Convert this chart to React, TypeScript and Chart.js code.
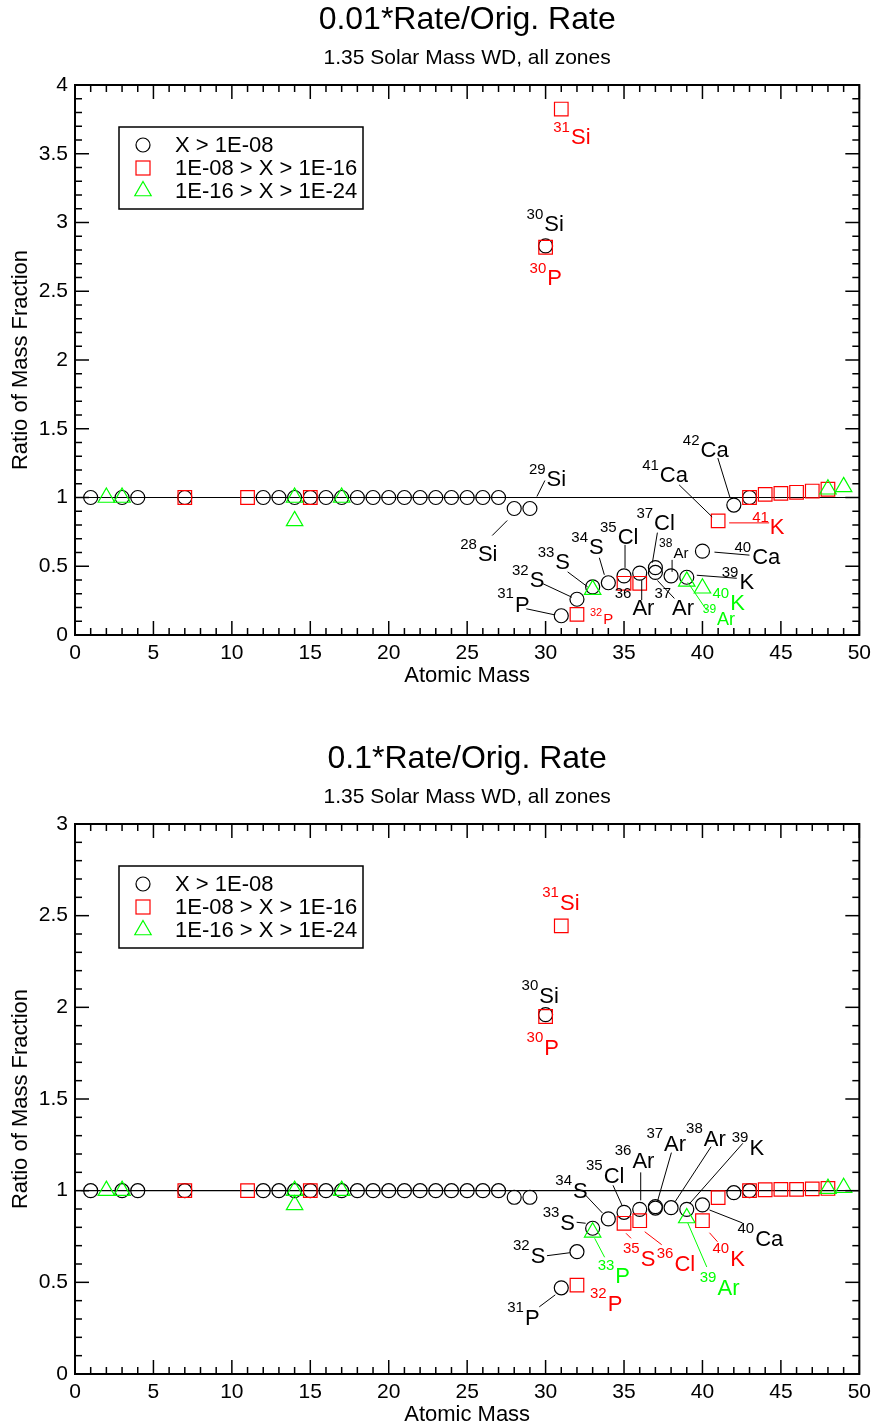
import React, { useEffect, useRef } from "react";
import { Chart, registerables } from "chart.js";

Chart.register(...registerables);

const FONT = '"Liberation Sans", Arial, Helvetica, sans-serif';
const BLACK = "#000000";
const RED = "#ff0000";
const GREEN = "#00ff00";

// ---------- data: panel A (0.01*Rate) ----------
const circleMassA = [1, 3, 4, 7, 12, 13, 14, 15, 16, 17, 18, 19, 20, 21, 22, 23, 24, 25, 26, 27, 28, 29, 30, 31, 32, 33, 34, 35, 36, 37, 37, 38, 39, 40, 42, 43];
const circleRatioA = [1, 1, 1, 1, 1, 1, 1, 1, 1, 1, 1, 1, 1, 1, 1, 1, 1, 1, 1, 1, 0.92, 0.92, 2.83, 0.14, 0.26, 0.35, 0.38, 0.43, 0.45, 0.49, 0.455, 0.43, 0.42, 0.61, 0.945, 1.0];
const squareMassA = [7, 11, 15, 30, 31, 32, 35, 36, 41, 43, 44, 45, 46, 47, 48];
const squareRatioA = [1, 1, 1, 2.82, 3.825, 0.15, 0.376, 0.376, 0.83, 1.0, 1.023, 1.03, 1.038, 1.047, 1.06];
const triMassA = [2, 3, 14, 14, 17, 33, 39, 40, 48, 49];
const triRatioA = [1, 1, 1, 0.83, 1, 0.33, 0.39, 0.34, 1.06, 1.077];

// ---------- data: panel B (0.1*Rate) ----------
const circleMassB = [1, 3, 4, 7, 12, 13, 14, 15, 16, 17, 18, 19, 20, 21, 22, 23, 24, 25, 26, 27, 28, 29, 30, 31, 32, 33, 34, 35, 36, 37, 37, 38, 39, 40, 42, 43];
const circleRatioB = [1, 1, 1, 1, 1, 1, 1, 1, 1, 1, 1, 1, 1, 1, 1, 1, 1, 1, 1, 1, 0.964, 0.964, 1.96, 0.47, 0.667, 0.795, 0.846, 0.882, 0.898, 0.913, 0.905, 0.907, 0.898, 0.922, 0.989, 1.0];
const squareMassB = [7, 11, 15, 30, 31, 32, 35, 36, 40, 41, 43, 44, 45, 46, 47, 48];
const squareRatioB = [1, 1, 1, 1.95, 2.444, 0.485, 0.822, 0.836, 0.836, 0.962, 1.0, 1.005, 1.007, 1.007, 1.01, 1.012];
const triMassB = [2, 3, 14, 14, 17, 33, 39, 48, 49];
const triRatioB = [1, 1, 1, 0.922, 1, 0.773, 0.851, 1.011, 1.016];

// ---------- text ----------
const titleA = "0.01*Rate/Orig. Rate";
const titleB = "0.1*Rate/Orig. Rate";
const subtitle = "1.35 Solar Mass WD, all zones";
const xTitle = "Atomic Mass";
const yTitle = "Ratio of Mass Fraction";
const legendLabels = ["X > 1E-08", "1E-08 > X > 1E-16", "1E-16 > X > 1E-24"];

type Lbl = {
  m: number; v: number; sup: string; sym: string; c: string;
  dx: number; dy: number; line?: number[]; supSize?: number; symSize?: number; gap?: number;
};

const labelsA: Lbl[] = [
  { m: 31, v: 3.825, sup: "31", sym: "Si", c: RED, dx: -8, dy: 23 },
  { m: 30, v: 2.83, sup: "30", sym: "Si", c: BLACK, dx: -19, dy: -27 },
  { m: 30, v: 2.82, sup: "30", sym: "P", c: RED, dx: -16, dy: 26 },
  { m: 29, v: 0.92, sup: "29", sym: "Si", c: BLACK, dx: -1, dy: -35, line: [7, -12, 15, -28] },
  { m: 28, v: 0.92, sup: "28", sym: "Si", c: BLACK, dx: -54, dy: 40, line: [-7, 12, -22, 27] },
  { m: 42, v: 0.945, sup: "42", sym: "Ca", c: BLACK, dx: -51, dy: -60, line: [-16, -47, -4, -8] },
  { m: 41, v: 0.83, sup: "41", sym: "Ca", c: BLACK, dx: -76, dy: -51, line: [-39, -36, -6, -4] },
  { m: 41, v: 0.83, sup: "41", sym: "K", c: RED, dx: 34, dy: 1, line: [11, 2, 51, 2] },
  { m: 40, v: 0.61, sup: "40", sym: "Ca", c: BLACK, dx: 32, dy: 1, line: [12, 1, 47, 4] },
  { m: 39, v: 0.42, sup: "39", sym: "K", c: BLACK, dx: 35, dy: 0, line: [10, -2, 50, 1] },
  { m: 40, v: 0.34, sup: "40", sym: "K", c: GREEN, dx: 10, dy: 10 },
  { m: 39, v: 0.39, sup: "39", sym: "Ar", c: GREEN, dx: 16, dy: 32, line: [1, 1, 20, 29], supSize: 12, symSize: 18 },
  { m: 38, v: 0.43, sup: "38", sym: "Ar", c: BLACK, dx: -12, dy: -29, line: [1, -16, 1, -4], supSize: 12, symSize: 15, gap: 11 },
  { m: 37, v: 0.49, sup: "37", sym: "Cl", c: BLACK, dx: -19, dy: -50, line: [2, -35, -3, -5] },
  { m: 37, v: 0.455, sup: "37", sym: "Ar", c: BLACK, dx: -1, dy: 26, line: [2, 8, 19, 26], gap: 17 },
  { m: 36, v: 0.45, sup: "36", sym: "Ar", c: BLACK, dx: -25, dy: 25, line: [2, 7, 2, 27], gap: 17 },
  { m: 35, v: 0.43, sup: "35", sym: "Cl", c: BLACK, dx: -24, dy: -44, line: [1, -31, 1, -8] },
  { m: 34, v: 0.38, sup: "34", sym: "S", c: BLACK, dx: -37, dy: -41, line: [-9, -25, -4, -8] },
  { m: 33, v: 0.35, sup: "33", sym: "S", c: BLACK, dx: -55, dy: -30, line: [-25, -15, -5, 0] },
  { m: 32, v: 0.26, sup: "32", sym: "S", c: BLACK, dx: -65, dy: -24, line: [-35, -16, -5, -2] },
  { m: 31, v: 0.14, sup: "31", sym: "P", c: BLACK, dx: -64, dy: -18, line: [-35, -7, -7, -1], gap: 14 },
  { m: 32, v: 0.15, sup: "32", sym: "P", c: RED, dx: 13, dy: 2, supSize: 11, symSize: 15, gap: 8 },
];

const labelsB: Lbl[] = [
  { m: 31, v: 2.444, sup: "31", sym: "Si", c: RED, dx: -19, dy: -29 },
  { m: 30, v: 1.96, sup: "30", sym: "Si", c: BLACK, dx: -24, dy: -25 },
  { m: 30, v: 1.95, sup: "30", sym: "P", c: RED, dx: -19, dy: 25 },
  { m: 31, v: 0.47, sup: "31", sym: "P", c: BLACK, dx: -54, dy: 24, line: [-22, 19, -6, 7] },
  { m: 32, v: 0.485, sup: "32", sym: "P", c: RED, dx: 13, dy: 13 },
  { m: 32, v: 0.667, sup: "32", sym: "S", c: BLACK, dx: -64, dy: -2, line: [-30, 4, -7, 1] },
  { m: 33, v: 0.795, sup: "33", sym: "S", c: BLACK, dx: -50, dy: -11, line: [-16, -6, -7, -5] },
  { m: 33, v: 0.773, sup: "33", sym: "P", c: GREEN, dx: 5, dy: 38, line: [2, 6, 12, 25] },
  { m: 34, v: 0.846, sup: "34", sym: "S", c: BLACK, dx: -53, dy: -34, line: [-23, -24, -6, -6] },
  { m: 35, v: 0.882, sup: "35", sym: "Cl", c: BLACK, dx: -38, dy: -42, line: [-11, -27, -2, -7] },
  { m: 36, v: 0.898, sup: "36", sym: "Ar", c: BLACK, dx: -25, dy: -54, line: [1, -37, 1, -9] },
  { m: 37, v: 0.913, sup: "37", sym: "Ar", c: BLACK, dx: -9, dy: -69, line: [16, -54, 2, -5] },
  { m: 38, v: 0.907, sup: "38", sym: "Ar", c: BLACK, dx: 15, dy: -75, line: [40, -61, 4, -6] },
  { m: 39, v: 0.898, sup: "39", sym: "K", c: BLACK, dx: 45, dy: -67, line: [56, -66, 3, -6] },
  { m: 40, v: 0.922, sup: "40", sym: "Ca", c: BLACK, dx: 35, dy: 28, line: [7, 5, 40, 18] },
  { m: 35, v: 0.822, sup: "35", sym: "S", c: RED, dx: -1, dy: 30, line: [2, 10, 7, 15] },
  { m: 36, v: 0.836, sup: "36", sym: "Cl", c: RED, dx: 17, dy: 37, line: [5, 11, 22, 24] },
  { m: 40, v: 0.836, sup: "40", sym: "K", c: RED, dx: 10, dy: 32, line: [7, 12, 15, 21] },
  { m: 39, v: 0.851, sup: "39", sym: "Ar", c: GREEN, dx: 13, dy: 64, line: [1, 5, 20, 49] },
];

const refLineX = [0.4, 50];
const refLineY = [1, 1];

type PanelCfg = {
  title: string; yMax: number; height: number;
  cm: number[]; cr: number[]; sm: number[]; sr: number[]; tm: number[]; tr: number[];
  labels: Lbl[];
};

const zip = (xs: number[], ys: number[]) => xs.map((x, i) => ({ x, y: ys[i] }));

const decoPlugin = {
  id: "deco",
  afterDraw(chart: any, _args: any, opts: any) {
    const ctx: CanvasRenderingContext2D = chart.ctx;
    const { left, right, top, bottom } = chart.chartArea;
    const xs = chart.scales.x;
    const ys = chart.scales.y;
    const seg = (x1: number, y1: number, x2: number, y2: number) => {
      ctx.beginPath(); ctx.moveTo(x1, y1); ctx.lineTo(x2, y2); ctx.stroke();
    };
    ctx.save();
    // frame
    ctx.strokeStyle = BLACK;
    ctx.lineWidth = 2;
    ctx.strokeRect(left, top, right - left, bottom - top);
    ctx.lineWidth = 1.5;
    for (let i = 0; i <= 50; i++) {
      const px = xs.getPixelForValue(i);
      const len = i % 5 === 0 ? 14 : 7;
      seg(px, bottom, px, bottom - len);
      seg(px, top, px, top + len);
    }
    const n = Math.round(opts.yMax * 10);
    for (let j = 0; j <= n; j++) {
      const py = ys.getPixelForValue(j / 10);
      const len = j % 5 === 0 ? 14 : 7;
      seg(left, py, left + len, py);
      seg(right, py, right - len, py);
    }
    // titles
    ctx.fillStyle = BLACK;
    ctx.textAlign = "center";
    ctx.textBaseline = "middle";
    const cx = (left + right) / 2;
    ctx.font = `32px ${FONT}`;
    ctx.fillText(opts.title, cx, 20);
    ctx.font = `21px ${FONT}`;
    ctx.fillText(subtitle, cx, 58);
    ctx.font = `22px ${FONT}`;
    ctx.fillText(xTitle, cx, bottom + 41);
    ctx.save();
    ctx.translate(21, (top + bottom) / 2);
    ctx.rotate(-Math.PI / 2);
    ctx.fillText(yTitle, 0, 0);
    ctx.restore();

    // legend
    const lx = 119, ly = 127, lw = 244, lh = 82;
    ctx.lineWidth = 1.5;
    ctx.strokeStyle = BLACK;
    ctx.strokeRect(lx, ly, lw, lh);
    const rows = [145, 168, 191];
    const sx = 143;
    ctx.lineWidth = 1.2;
    ctx.strokeStyle = BLACK;
    ctx.beginPath(); ctx.arc(sx, rows[0], 7, 0, Math.PI * 2); ctx.stroke();
    ctx.strokeStyle = RED;
    ctx.strokeRect(sx - 7, rows[1] - 7, 14, 14);
    ctx.strokeStyle = GREEN;
    ctx.beginPath();
    ctx.moveTo(sx, rows[2] - 9.5);
    ctx.lineTo(sx + 8.2, rows[2] + 4.75);
    ctx.lineTo(sx - 8.2, rows[2] + 4.75);
    ctx.closePath(); ctx.stroke();
    ctx.fillStyle = BLACK;
    ctx.textAlign = "left";
    ctx.textBaseline = "middle";
    ctx.font = `22px ${FONT}`;
    legendLabels.forEach((t, i) => ctx.fillText(t, 175, rows[i] + 1));

    // isotope labels
    ctx.textBaseline = "alphabetic";
    for (const l of opts.labels as Lbl[]) {
      const px = xs.getPixelForValue(l.m);
      const py = ys.getPixelForValue(l.v);
      ctx.strokeStyle = l.c;
      ctx.fillStyle = l.c;
      ctx.lineWidth = 1;
      if (l.line) seg(px + l.line[0], py + l.line[1], px + l.line[2], py + l.line[3]);
      const ss = l.supSize ?? 15;
      const ms = l.symSize ?? 22;
      const gap = l.gap ?? opts.gap;
      ctx.font = `${ss}px ${FONT}`;
      const w = ctx.measureText(l.sup).width;
      ctx.fillText(l.sup, px + l.dx, py + l.dy);
      ctx.font = `${ms}px ${FONT}`;
      ctx.fillText(l.sym, px + l.dx + w + 1, py + l.dy + gap);
    }
    ctx.restore();
  },
};

function buildConfig(cfg: PanelCfg, gap: number): any {
  const pointBase = { showLine: false, borderWidth: 1.2, backgroundColor: "rgba(0,0,0,0)" };
  return {
    type: "scatter",
    data: {
      datasets: [
        { ...pointBase, label: legendLabels[2], data: zip(cfg.tm, cfg.tr), pointStyle: "triangle", pointRadius: 9.5, borderColor: GREEN, order: 0 },
        { ...pointBase, label: legendLabels[1], data: zip(cfg.sm, cfg.sr), pointStyle: "rect", pointRadius: 9.6, borderColor: RED, order: 1 },
        { ...pointBase, label: legendLabels[0], data: zip(cfg.cm, cfg.cr), pointStyle: "circle", pointRadius: 7, borderColor: BLACK, order: 2 },
        { label: "ref", data: zip(refLineX, refLineY), showLine: true, pointRadius: 0, borderColor: BLACK, borderWidth: 1.2, order: 3 },
      ],
    },
    options: {
      animation: false,
      responsive: false,
      events: [],
      layout: { padding: { top: 85, right: 17, left: 0, bottom: 0 } },
      plugins: {
        legend: { display: false },
        tooltip: { enabled: false },
        title: { display: false },
        deco: { title: cfg.title, yMax: cfg.yMax, labels: cfg.labels, gap },
      },
      scales: {
        x: {
          type: "linear", min: 0, max: 50,
          ticks: { stepSize: 5, color: BLACK, font: { family: FONT, size: 21 }, padding: 6, maxRotation: 0, autoSkip: false,
            callback: (v: any) => String(+v) },
          grid: { display: false, drawTicks: false },
          border: { display: false },
          afterFit: (s: any) => { s.height = cfg.height - 635; },
        },
        y: {
          type: "linear", min: 0, max: cfg.yMax,
          ticks: { stepSize: 0.5, color: BLACK, font: { family: FONT, size: 21 }, padding: 7, autoSkip: false,
            callback: (v: any) => String(Math.round(+v * 10) / 10) },
          grid: { display: false, drawTicks: false },
          border: { display: false },
          afterFit: (s: any) => { s.width = 75; },
        },
      },
    },
    plugins: [decoPlugin],
  };
}

function Panel({ cfg, top, gap }: { cfg: PanelCfg; top: number; gap: number }) {
  const ref = useRef<HTMLCanvasElement>(null);
  useEffect(() => {
    const chart = new Chart(ref.current as HTMLCanvasElement, buildConfig(cfg, gap));
    return () => chart.destroy();
  }, []);
  return (
    <canvas
      ref={ref}
      width={877}
      height={cfg.height}
      style={{ position: "absolute", left: 0, top, width: 877, height: cfg.height, display: "block" }}
    />
  );
}

const panelA: PanelCfg = {
  title: titleA, yMax: 4, height: 739,
  cm: circleMassA, cr: circleRatioA, sm: squareMassA, sr: squareRatioA, tm: triMassA, tr: triRatioA,
  labels: labelsA,
};
const panelB: PanelCfg = {
  title: titleB, yMax: 3, height: 688,
  cm: circleMassB, cr: circleRatioB, sm: squareMassB, sr: squareRatioB, tm: triMassB, tr: triRatioB,
  labels: labelsB,
};

export default function App() {
  return (
    <div style={{ position: "absolute", left: 0, top: 0, width: 877, height: 1427, background: "#fff" }}>
      <Panel cfg={panelA} top={0} gap={12} />
      <Panel cfg={panelB} top={739} gap={13} />
    </div>
  );
}
